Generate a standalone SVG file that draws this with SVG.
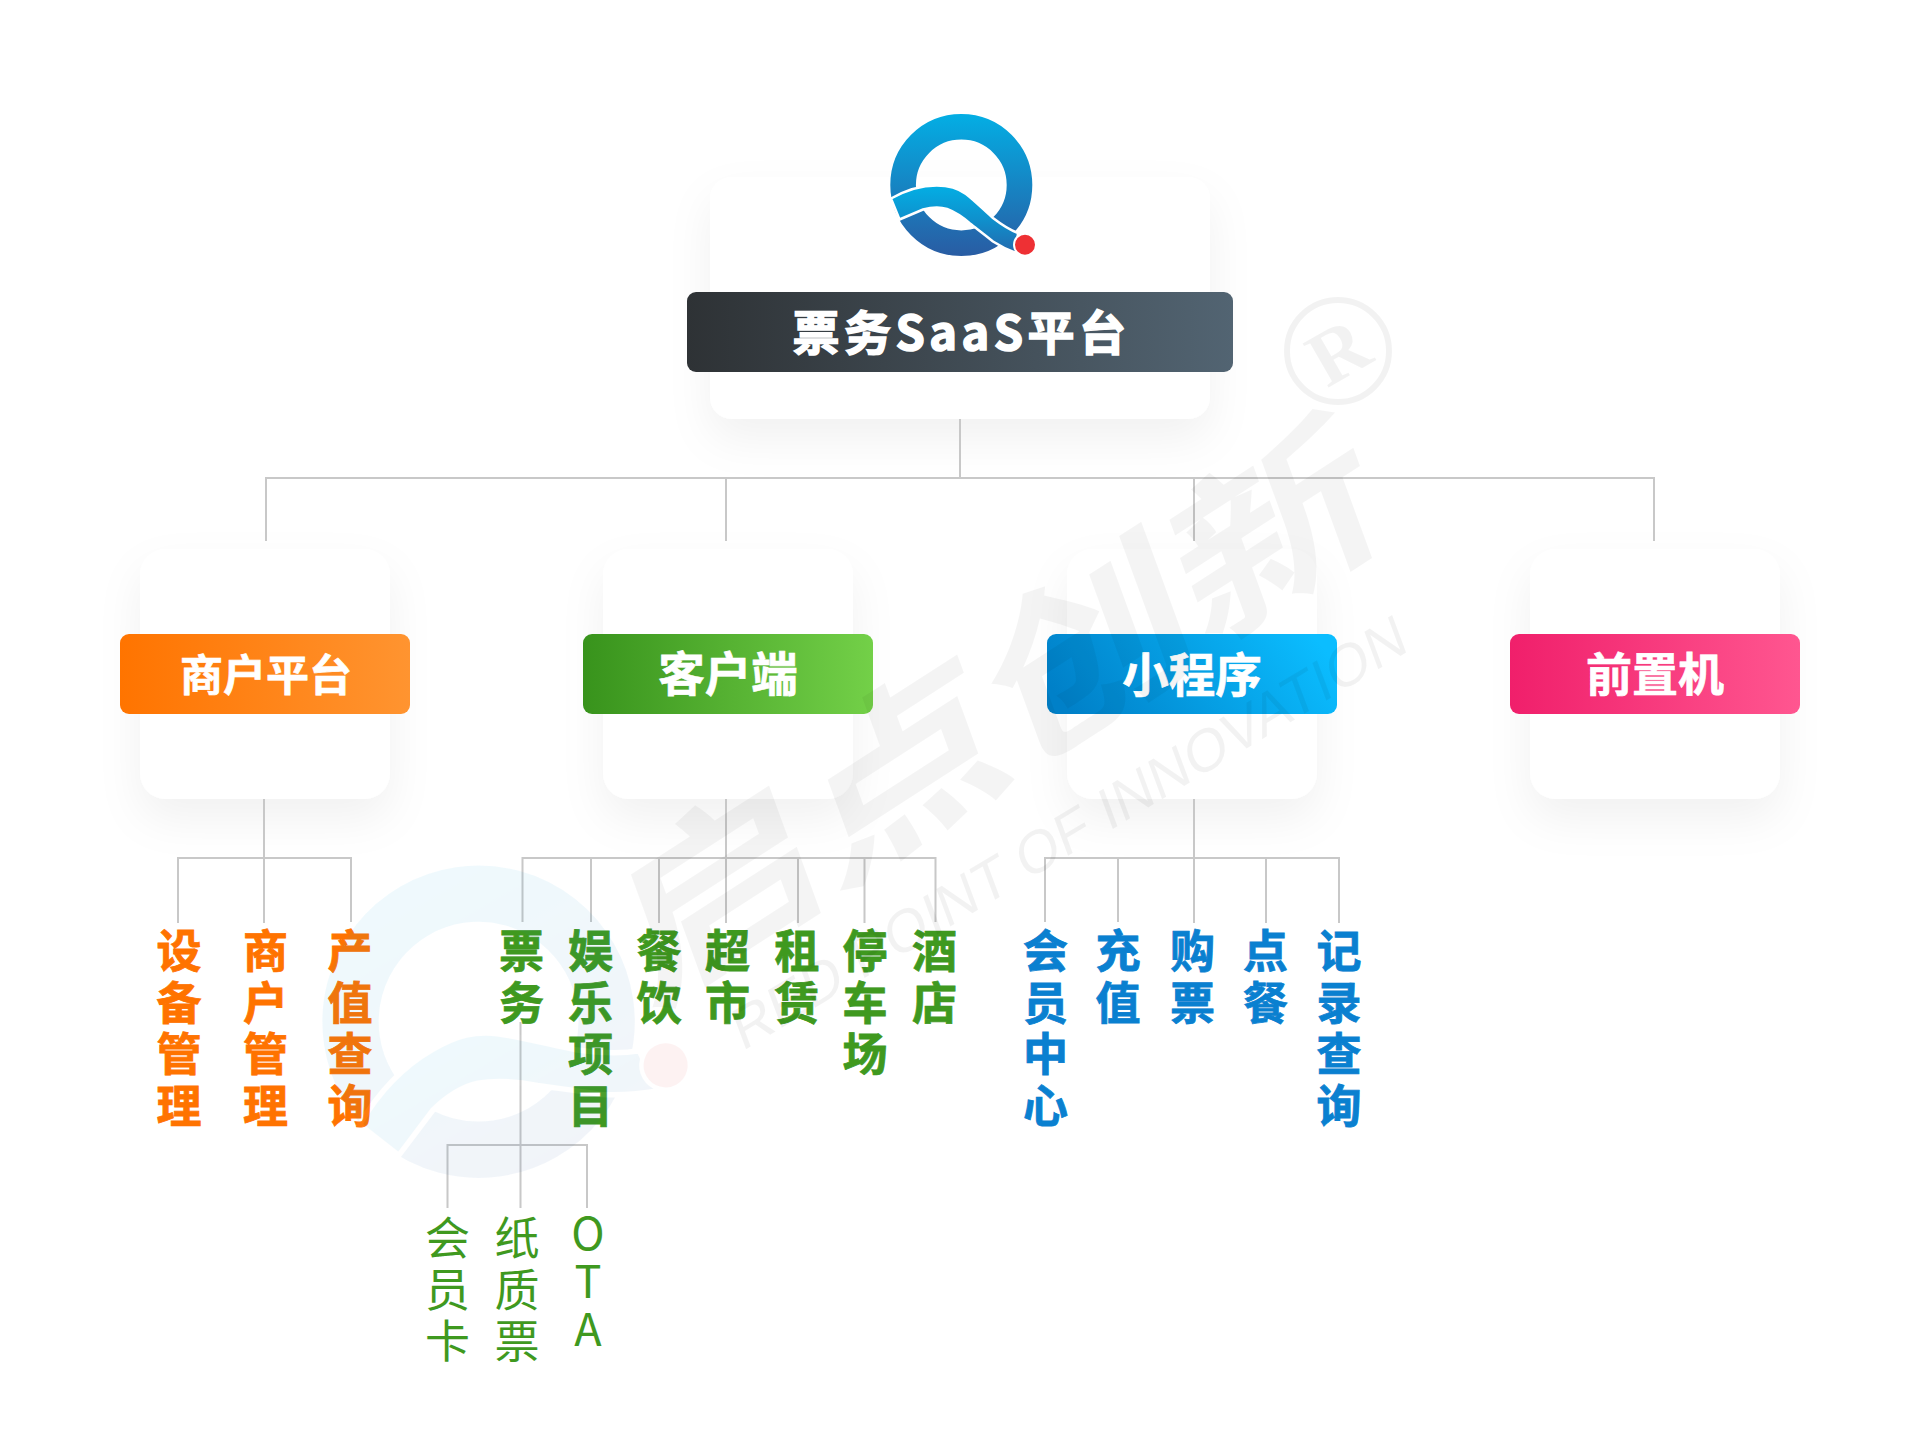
<svg xmlns="http://www.w3.org/2000/svg" xmlns:xlink="http://www.w3.org/1999/xlink" width="1920" height="1440" viewBox="0 0 1920 1440">
<style>
text{font-family:"Noto Sans CJK SC","Noto Sans",sans-serif}
.card{fill:#fff;filter:url(#sh)}
.head{fill:#fff;stroke:#fff;stroke-width:.7;font-weight:700;text-anchor:middle}
.leaf{font-size:45px;font-weight:700;text-anchor:middle;stroke-width:.8}
.thin{font-size:45px;font-weight:400;text-anchor:middle;fill:#3f991f}
.o{fill:#ff7300;stroke:#ff7300}.g{fill:#3f991f;stroke:#3f991f}.b{fill:#0a80d0;stroke:#0a80d0}
#connectors path{fill:none;stroke:#c8c8c8;stroke-width:2}
</style>
<defs>
<filter id="sh" x="-30%" y="-30%" width="160%" height="170%"><feDropShadow dx="0" dy="20" stdDeviation="22" flood-color="#000" flood-opacity=".055"/></filter>
<linearGradient id="gd"><stop offset="0" stop-color="#2e3235"/><stop offset="1" stop-color="#526472"/></linearGradient>
<linearGradient id="go"><stop offset="0" stop-color="#ff7400"/><stop offset="1" stop-color="#ff9430"/></linearGradient>
<linearGradient id="gg"><stop offset="0" stop-color="#38931c"/><stop offset="1" stop-color="#73d048"/></linearGradient>
<linearGradient id="gb" x1="0" y1=".6" x2="1" y2=".4"><stop offset="0" stop-color="#0080c8"/><stop offset="1" stop-color="#0bbdff"/></linearGradient>
<linearGradient id="gp"><stop offset="0" stop-color="#f01f6b"/><stop offset="1" stop-color="#ff5690"/></linearGradient>
<linearGradient id="gr" gradientUnits="userSpaceOnUse" x1="0" y1="114" x2="0" y2="256"><stop offset="0" stop-color="#03aee4"/><stop offset="1" stop-color="#295ca3"/></linearGradient>
<linearGradient id="gq" gradientUnits="userSpaceOnUse" x1="0" y1="186" x2="0" y2="254"><stop offset="0" stop-color="#03aee4"/><stop offset=".5" stop-color="#0f90cc"/><stop offset="1" stop-color="#2468ad"/></linearGradient>
<g id="q">
<circle cx="961.3" cy="185" r="58.2" fill="none" stroke="url(#gr)" stroke-width="25.6"/>
<path d="M891 198.5C906 190 921 185.5 936.7 185.5C950 185.5 958 188 966 194C975 201 985 211 993 218C1002 225 1010 230 1018 233L1016 253C1008 250 1000 246 993 241.500C985 235 977 229 970 223.500C962 216.500 955 212 947 209C941 207 932 207 923 209.500L899.500 219.500Z" fill="url(#gq)" stroke="#fff" stroke-width="2.500"/>
<circle cx="1025" cy="244.700" r="11" fill="#ee3034" stroke="#fff" stroke-width="2"/>
</g>
</defs>
<rect width="1920" height="1440" fill="#fff"/>
<rect class="card" x="710" y="177" width="500" height="242" rx="22"/>
<rect class="card" x="140" y="549" width="250" height="250" rx="26"/>
<rect class="card" x="603" y="549" width="250" height="250" rx="26"/>
<rect class="card" x="1067" y="549" width="250" height="250" rx="26"/>
<rect class="card" x="1530" y="549" width="250" height="250" rx="26"/>
<g id="connectors">
<path d="M960 419V478M266 541V478H1654V541M726 478V541M1194 478V541"/>
<path d="M264 799V923M178 923V858H351V922"/>
<path d="M726 799V923M522.500 922V858H935.500V922M591 858V922M659 858V923M798 858V923M864.500 858V923"/>
<path d="M1194 799V923M1045 922V858H1339V923M1118 858V922M1266 858V923"/>
<path d="M520.500 1022V1208M447.500 1208V1145H587V1208"/>
</g>
<g id="logo"><use xlink:href="#q"/></g>
<g id="root">
<rect x="687" y="292" width="546" height="80" rx="9" fill="url(#gd)"/>
<text class="head" x="961.500" y="350" font-size="47" letter-spacing="4.500" style="stroke-width:1.600">票务SaaS平台</text>
</g>
<g id="merchant">
<rect x="120" y="634" width="290" height="80" rx="9" fill="url(#go)"/>
<text class="head" x="266" y="691" font-size="43">商户平台</text>
</g>
<g id="client">
<rect x="583" y="634" width="290" height="80" rx="9" fill="url(#gg)"/>
<text class="head" x="728" y="691" font-size="46.500">客户端</text>
</g>
<g id="miniapp">
<rect x="1047" y="634" width="290" height="80" rx="9" fill="url(#gb)"/>
<text class="head" x="1192" y="692" font-size="46.500">小程序</text>
</g>
<g id="frontend">
<rect x="1510" y="634" width="290" height="80" rx="9" fill="url(#gp)"/>
<text class="head" x="1655" y="691" font-size="46">前置机</text>
</g>
<g id="leaf-orange" class="o">
<text class="leaf" y="968"><tspan x="179">设</tspan><tspan x="179" dy="51.7">备</tspan><tspan x="179" dy="51.7">管</tspan><tspan x="179" dy="51.700">理</tspan></text>
<text class="leaf" y="968"><tspan x="265.500">商</tspan><tspan x="265.500" dy="51.7">户</tspan><tspan x="265.500" dy="51.7">管</tspan><tspan x="265.500" dy="51.7">理</tspan></text>
<text class="leaf" y="968"><tspan x="350">产</tspan><tspan x="350" dy="51.7">值</tspan><tspan x="350" dy="51.7">查</tspan><tspan x="350" dy="51.7">询</tspan></text>
</g>
<g id="leaf-green" class="g">
<text class="leaf" y="968"><tspan x="521.500">票</tspan><tspan x="521.500" dy="51.7">务</tspan></text>
<text class="leaf" y="968"><tspan x="590.500">娱</tspan><tspan x="590.500" dy="51.7">乐</tspan><tspan x="590.500" dy="51.7">项</tspan><tspan x="590.500" dy="51.7">目</tspan></text>
<text class="leaf" y="968"><tspan x="659">餐</tspan><tspan x="659" dy="51.7">饮</tspan></text>
<text class="leaf" y="968"><tspan x="727.500">超</tspan><tspan x="727.500" dy="51.7">市</tspan></text>
<text class="leaf" y="968"><tspan x="797">租</tspan><tspan x="797" dy="51.7">赁</tspan></text>
<text class="leaf" y="968"><tspan x="865">停</tspan><tspan x="865" dy="51.7">车</tspan><tspan x="865" dy="51.7">场</tspan></text>
<text class="leaf" y="968"><tspan x="934.500">酒</tspan><tspan x="934.500" dy="51.7">店</tspan></text>
</g>
<g id="leaf-blue" class="b">
<text class="leaf" y="968"><tspan x="1045.500">会</tspan><tspan x="1045.500" dy="51.7">员</tspan><tspan x="1045.500" dy="51.7">中</tspan><tspan x="1045.500" dy="51.7">心</tspan></text>
<text class="leaf" y="968"><tspan x="1118">充</tspan><tspan x="1118" dy="51.7">值</tspan></text>
<text class="leaf" y="968"><tspan x="1192.500">购</tspan><tspan x="1192.500" dy="51.7">票</tspan></text>
<text class="leaf" y="968"><tspan x="1265.500">点</tspan><tspan x="1265.500" dy="51.7">餐</tspan></text>
<text class="leaf" y="968"><tspan x="1339">记</tspan><tspan x="1339" dy="51.7">录</tspan><tspan x="1339" dy="51.7">查</tspan><tspan x="1339" dy="51.7">询</tspan></text>
</g>
<g id="ticket-types">
<text class="thin" y="1255"><tspan x="447.500">会</tspan><tspan x="447.500" dy="51.7">员</tspan><tspan x="447.500" dy="51.7">卡</tspan></text>
<text class="thin" y="1255"><tspan x="517">纸</tspan><tspan x="517" dy="51.7">质</tspan><tspan x="517" dy="51.7">票</tspan></text>
<text class="thin" y="1250"><tspan x="588">O</tspan><tspan x="588" dy="48">T</tspan><tspan x="588" dy="48">A</tspan></text>
</g>
<g id="watermark" pointer-events="none">
<g opacity=".06" transform="translate(478 1022) rotate(-30) scale(2.2) translate(-961 -185)"><use xlink:href="#q"/></g>
<text transform="matrix(.93 -.6 .3 .82 1018.500 769)" text-anchor="middle" font-size="200" font-weight="700" fill="#000" fill-opacity=".045">启点创新</text>
<text transform="matrix(.857 -.515 .35 .94 1076 851)" text-anchor="middle" font-size="58" fill="#000" fill-opacity=".05" style="font-family:'Liberation Sans',sans-serif">RED POINT OF INNOVATION</text>
<circle cx="1338" cy="351" r="51" fill="none" stroke="#000" stroke-opacity=".05" stroke-width="6"/>
<text transform="translate(1338 351) rotate(-30)" y="27" text-anchor="middle" font-size="78" font-weight="700" fill="#000" fill-opacity=".05" style="font-family:'Liberation Serif',serif">R</text>
</g>
</svg>
